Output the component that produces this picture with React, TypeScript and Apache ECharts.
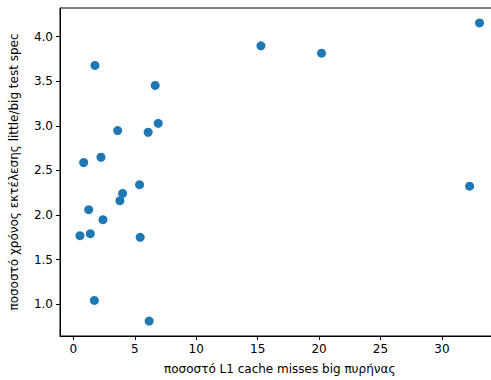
import React, { useEffect, useRef } from "react";
import * as echarts from "echarts";

// L1 cache miss percentage of the big core (x) vs little/big execution-time ratio (y)
const missRate: number[] = [
  1.76, 6.66, 3.61, 6.09, 6.91, 0.84, 2.25, 5.39,
  15.27, 20.2, 33.06, 32.25,
  4.01, 3.79, 1.25, 2.41, 0.54, 1.38, 5.44, 1.71, 6.17,
];
const timeRatio: number[] = [
  3.676, 3.452, 2.946, 2.927, 3.027, 2.588, 2.647, 2.339,
  3.896, 3.814, 4.153, 2.323,
  2.241, 2.16, 2.059, 1.947, 1.768, 1.79, 1.749, 1.042, 0.81,
];
const xTicks: number[] = [0, 5, 10, 15, 20, 25, 30];
const yTicks: number[] = [1.0, 1.5, 2.0, 2.5, 3.0, 3.5, 4.0];

const xLabel = "ποσοστό L1 cache misses big πυρήνας";
const yLabel = "ποσοστό χρόνος εκτέλεσης little/big test spec";

const FONT = "DejaVu Sans";

export default function App() {
  const ref = useRef<HTMLDivElement>(null);

  useEffect(() => {
    if (!ref.current) return;
    const chart = echarts.init(ref.current, undefined, { renderer: "svg" });

    // matplotlib-style 5% margins around the data range
    const xMinD = Math.min(...missRate);
    const xMaxD = Math.max(...missRate);
    const yMinD = Math.min(...timeRatio);
    const yMaxD = Math.max(...timeRatio);
    const xPad = (xMaxD - xMinD) * 0.05;
    const yPad = (yMaxD - yMinD) * 0.05;

    const axisCommon = {
      axisLine: { show: true, onZero: false, lineStyle: { color: "#000", width: 1 } },
      axisTick: { show: true, length: 4, inside: false, lineStyle: { color: "#000", width: 1 } },
      splitLine: { show: false },
      nameTextStyle: { fontFamily: FONT, fontSize: 12, color: "#000" },
    };

    chart.setOption({
      animation: false,
      backgroundColor: "#fff",
      grid: { left: 58.5, top: 8, width: 441, height: 328.7, show: true, borderColor: "#000", borderWidth: 1, backgroundColor: "transparent" },
      xAxis: {
        type: "value",
        min: xMinD - xPad,
        max: xMaxD + xPad,
        name: xLabel,
        nameLocation: "middle",
        nameGap: 27,
        ...axisCommon,
        axisTick: { ...axisCommon.axisTick, customValues: xTicks },
        axisLabel: {
          customValues: xTicks,
          fontFamily: FONT,
          fontSize: 12,
          color: "#000",
          margin: 7,
          formatter: (v: number) => String(v),
        },
      },
      yAxis: {
        type: "value",
        min: yMinD - yPad,
        max: yMaxD + yPad,
        name: yLabel,
        nameLocation: "middle",
        nameGap: 40,
        nameRotate: 90,
        ...axisCommon,
        axisTick: { ...axisCommon.axisTick, customValues: yTicks },
        axisLabel: {
          customValues: yTicks,
          fontFamily: FONT,
          fontSize: 12,
          color: "#000",
          margin: 7,
          formatter: (v: number) => v.toFixed(1),
        },
      },
      series: [
        {
          type: "scatter",
          symbol: "circle",
          symbolSize: 9,
          itemStyle: { color: "#1f77b4", opacity: 1 },
          data: missRate.map((x, i) => [x, timeRatio[i]]),
        },
      ],
    });

    return () => chart.dispose();
  }, []);

  return (
    <div style={{ position: "fixed", left: 0, top: 0, width: 491, height: 380, overflow: "hidden", background: "#fff" }}>
      <div ref={ref} style={{ width: 510, height: 380 }} />
    </div>
  );
}
